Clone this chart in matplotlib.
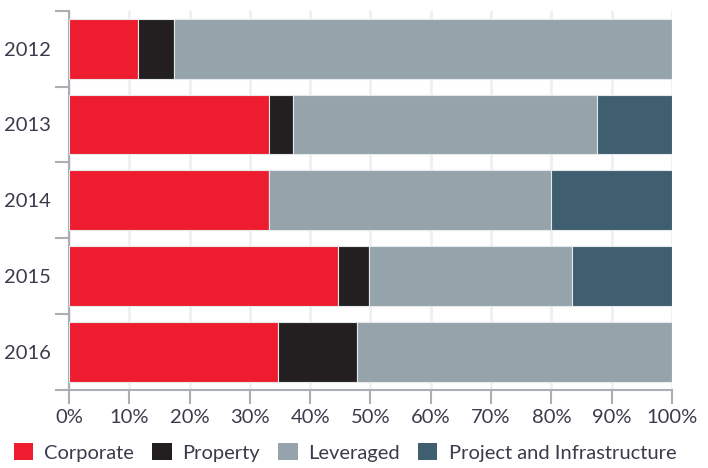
import matplotlib.pyplot as plt
from matplotlib.patches import Patch
import numpy as np

years = ['2012', '2013', '2014', '2015', '2016']
corporate = [11.4, 33.2, 33.2, 44.6, 34.6]
prop = [6.0, 4.0, 0.0, 5.2, 13.2]
leveraged = [82.6, 50.4, 46.8, 33.6, 52.2]
project = [0.0, 12.4, 20.0, 16.6, 0.0]

series = [('Corporate', corporate, '#ed1c2e'),
          ('Property', prop, '#231f20'),
          ('Leveraged', leveraged, '#95a3aa'),
          ('Project and Infrastructure', project, '#3f5e70')]

plt.rcParams['font.family'] = ['Lato', 'DejaVu Sans']
txt = '#3b3b4b'
axcol = '#a9afb5'
fs = 14.5

fig = plt.figure(figsize=(7.08, 4.68), dpi=100)
ax = fig.add_axes([69 / 708, 1 - 390 / 468, 603 / 708, 379.3 / 468])

y = np.arange(len(years))
left = np.zeros(len(years))
for name, vals, col in series:
    vals = np.array(vals)
    ax.barh(y, vals, left=left, height=0.79, color=col,
            edgecolor='#e6e9ec', linewidth=0.8, zorder=3)
    left += vals

ax.set_xlim(0, 100)
ax.set_ylim(len(years) - 0.5, -0.5)
ax.set_xticks(np.arange(0, 101, 10))
ax.set_xticklabels([f'{v}%' for v in range(0, 101, 10)], fontsize=fs, color=txt)
ax.set_yticks(y)
ax.set_yticklabels(years, fontsize=fs, color=txt)
ax.set_yticks(np.arange(-0.5, len(years), 1), minor=True)
ax.tick_params(axis='y', which='major', length=0, pad=13)
ax.tick_params(axis='y', which='minor', length=10, width=1.5, color=axcol)
ax.tick_params(axis='x', length=10, width=1.5, color=axcol, pad=4)
ax.grid(axis='x', color='#eef1f4', linewidth=2, zorder=0)

for s in ['top', 'right']:
    ax.spines[s].set_visible(False)
for s in ['left', 'bottom']:
    ax.spines[s].set_color(axcol)
    ax.spines[s].set_linewidth(1.5)

handles = [Patch(facecolor=c, edgecolor='none', label=n) for n, _, c in series]
fig.legend(handles=handles, loc='lower left', bbox_to_anchor=(0.003, -0.012), ncol=4,
           frameon=False, fontsize=fs, labelcolor=txt, handlelength=0.95,
           handleheight=0.95, handletextpad=0.55, columnspacing=0.9,
           borderaxespad=0.2)

fig.savefig('out.png', dpi=100)
